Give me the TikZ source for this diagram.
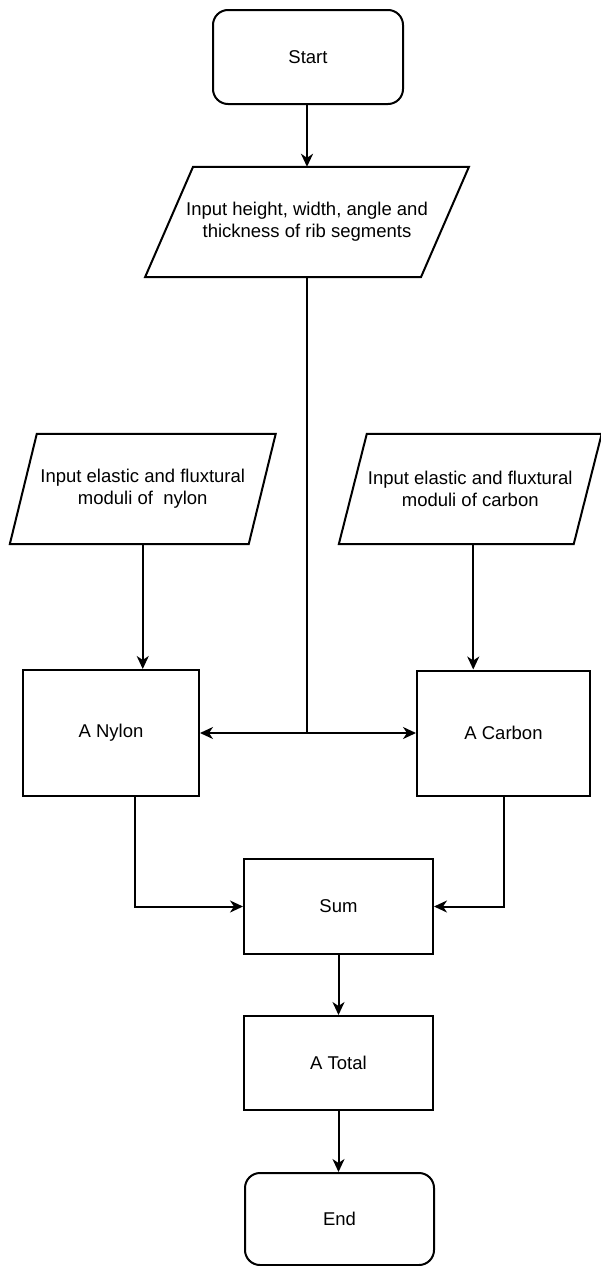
\documentclass[tikz,border=0pt]{standalone}
\usepackage{fontspec}
\setmainfont{Liberation Sans}
\usetikzlibrary{arrows.meta,calc}
\newcommand\drawpara[2]{%
  \draw[outline] ($(#1.north west)+(#2,0)$) -- ($(#1.north east)+(#2,0)$)
    -- ($(#1.south east)+(-#2,0)$) -- ($(#1.south west)+(-#2,0)$) -- cycle;}
\begin{document}
\begin{tikzpicture}[x=1pt,y=-1pt,
  outline/.style={line width=2pt, line join=miter},
  txt/.style={font=\fontsize{18.5}{22}\selectfont, align=center, inner sep=0pt},
  procbox/.style={txt, draw, outline},
  termbox/.style={procbox, rounded corners=15pt},
  parabox/.style={txt, draw=none},
  conn/.style={line width=2pt, -{Stealth[length=13pt,width=12pt,inset=4pt]}},
  plain/.style={line width=2pt}]
\useasboundingbox (0,0) rectangle (600,1266);
\fill[white] (0,0) rectangle (600,1266);

\node[termbox, minimum width=190pt, minimum height=94pt] (start) at (308,57) {Start};
\node[parabox, minimum width=275.5pt, minimum height=110pt] (p1) at (307,222)
  {Input height, width, angle and\\thickness of rib segments};
\drawpara{p1}{24}

\node[parabox, minimum width=238.5pt, minimum height=110pt] (nin) at (142.75,489)
  {Input elastic and fluxtural\\moduli of\ \ nylon};
\drawpara{nin}{13.5}
\node[parabox, minimum width=234.5pt, minimum height=110pt] (cin) at (470.25,489)
  {Input elastic and fluxtural\\moduli of carbon};
\drawpara{cin}{14}

\node[procbox, minimum width=176pt, minimum height=126pt] (anylon) at (111,733) {A Nylon};
\node[procbox, minimum width=173pt, minimum height=125pt] (acarbon) at (503.5,733) {A Carbon};
\node[procbox, minimum width=189pt, minimum height=95pt] (sum) at (338.5,906.5) {Sum};
\node[procbox, minimum width=189pt, minimum height=94pt] (atotal) at (338.5,1063) {A Total};
\node[termbox, minimum width=189pt, minimum height=92pt] (end) at (339.5,1219) {End};

\draw[conn] (start.south -| p1.north) -- (p1.north);
\draw[plain] (p1.south) -- (p1.south |- anylon.east) coordinate (j);
\draw[conn] (j) -- (anylon.east);
\draw[conn] (j) -- (acarbon.west);
\draw[conn] (nin.south) -- (nin.south |- anylon.north);
\draw[conn] ([xshift=3pt]cin.south) -- ([xshift=3pt]cin.south |- acarbon.north);
\draw[conn] ([xshift=24pt]anylon.south) |- (sum.west);
\draw[conn] (acarbon.south) |- (sum.east);
\draw[conn] (sum.south) -- (atotal.north);
\draw[conn] (atotal.south) -- (atotal.south |- end.north);
\end{tikzpicture}
\end{document}
